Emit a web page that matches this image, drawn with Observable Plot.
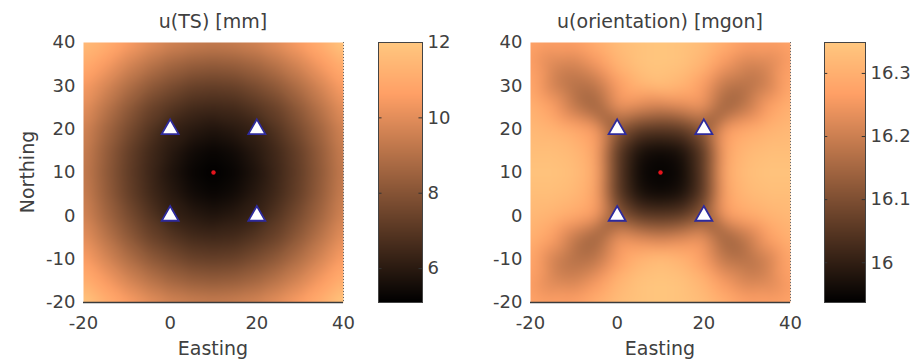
<!DOCTYPE html>
<html><head><meta charset="utf-8">
<script src="https://cdn.jsdelivr.net/npm/d3@7"></script>
<script src="https://cdn.jsdelivr.net/npm/@observablehq/plot@0.6"></script>
<style>
body{margin:0;background:#fff;}
#chart{position:relative;width:923px;height:360px;font-family:"DejaVu Sans",sans-serif;color:#404040;overflow:hidden;}
.svgbox{position:absolute;top:0;}
.lbl{position:absolute;font-size:19px;color:#404040;white-space:nowrap;transform:translate(-50%,-50%);line-height:1;}
</style></head><body><div id="chart"></div>
<script>
// grid coordinates (columns = Easting, rows = Northing, top row first)
const easting  = [-20,-15,-10,-5,0,5,10,15,20,25,30,35,40];
const northing = [40,35,30,25,20,15,10,5,0,-5,-10,-15,-20];

// u(TS) [mm]
const uTS = [
  [11.6,11.2,10.6,10.1, 9.7, 9.5, 9.4, 9.5, 9.7,10.1,10.6,11.2,12.0],
  [11.1,10.5, 9.8, 9.2, 8.7, 8.4, 8.3, 8.4, 8.7, 9.2, 9.8,10.5,11.2],
  [10.5, 9.8, 9.0, 8.3, 7.8, 7.4, 7.3, 7.4, 7.8, 8.3, 9.0, 9.8,10.6],
  [10.1, 9.2, 8.3, 7.5, 7.0, 6.6, 6.5, 6.6, 7.0, 7.5, 8.3, 9.2,10.1],
  [ 9.7, 8.7, 7.8, 7.0, 6.3, 6.0, 5.8, 6.0, 6.3, 7.0, 7.8, 8.7, 9.7],
  [ 9.5, 8.4, 7.4, 6.6, 6.0, 5.5, 5.3, 5.5, 6.0, 6.6, 7.4, 8.4, 9.5],
  [ 9.4, 8.3, 7.3, 6.5, 5.8, 5.3, 5.1, 5.3, 5.8, 6.5, 7.3, 8.3, 9.4],
  [ 9.5, 8.4, 7.4, 6.6, 6.0, 5.5, 5.3, 5.5, 6.0, 6.6, 7.4, 8.4, 9.5],
  [ 9.7, 8.7, 7.8, 7.0, 6.3, 6.0, 5.8, 6.0, 6.3, 7.0, 7.8, 8.7, 9.7],
  [10.1, 9.2, 8.3, 7.5, 7.0, 6.6, 6.5, 6.6, 7.0, 7.5, 8.3, 9.2,10.1],
  [10.6, 9.8, 9.0, 8.3, 7.8, 7.4, 7.3, 7.4, 7.8, 8.3, 9.0, 9.8,10.6],
  [11.2,10.5, 9.8, 9.2, 8.7, 8.4, 8.3, 8.4, 8.7, 9.2, 9.8,10.5,11.2],
  [12.0,11.2,10.6,10.1, 9.7, 9.5, 9.4, 9.5, 9.7,10.1,10.6,11.2,12.0]
];

// u(orientation) [mgon]
const uOrientation = [
  [16.28,16.27,16.27,16.30,16.33,16.34,16.345,16.34,16.33,16.30,16.27,16.27,16.28],
  [16.27,16.22,16.21,16.25,16.31,16.34,16.345,16.34,16.31,16.25,16.21,16.22,16.27],
  [16.29,16.21,16.17,16.18,16.26,16.31,16.33,16.31,16.26,16.18,16.17,16.21,16.29],
  [16.31,16.27,16.19,16.14,16.24,16.22,16.20,16.22,16.24,16.14,16.19,16.27,16.31],
  [16.32,16.31,16.29,16.26,16.12,16.06,16.05,16.06,16.12,16.26,16.29,16.31,16.32],
  [16.33,16.33,16.32,16.28,16.06,15.97,15.955,15.97,16.06,16.28,16.32,16.33,16.33],
  [16.34,16.34,16.33,16.29,16.06,15.955,15.94,15.955,16.06,16.29,16.33,16.34,16.34],
  [16.33,16.33,16.32,16.28,16.06,15.97,15.955,15.97,16.06,16.28,16.32,16.33,16.33],
  [16.32,16.31,16.29,16.26,16.12,16.06,16.05,16.06,16.12,16.26,16.29,16.31,16.32],
  [16.31,16.27,16.19,16.14,16.24,16.22,16.20,16.22,16.24,16.14,16.19,16.27,16.31],
  [16.29,16.21,16.17,16.18,16.26,16.31,16.33,16.31,16.26,16.18,16.17,16.21,16.29],
  [16.27,16.22,16.21,16.25,16.31,16.34,16.345,16.34,16.31,16.25,16.21,16.22,16.27],
  [16.28,16.27,16.27,16.30,16.33,16.34,16.345,16.34,16.33,16.30,16.27,16.27,16.28]
];

// extra samples of u(orientation) along the dark lobes running out from each control point
const lobeE = [-2.5,-7.5,-12.5,-17.5, 22.5,27.5,32.5,37.5, -2.5,-7.5,-12.5,-17.5, 22.5,27.5,32.5,37.5];
const lobeN = [22.5,27.5,32.5,37.5, 22.5,27.5,32.5,37.5, -2.5,-7.5,-12.5,-17.5, -2.5,-7.5,-12.5,-17.5];
const lobeV = [16.12,16.15,16.19,16.24, 16.12,16.15,16.19,16.24, 16.12,16.15,16.19,16.24, 16.12,16.15,16.19,16.24];

// control points (triangles) and target point
const stationE = [0, 20, 0, 20];
const stationN = [0, 0, 20, 20];
const targetE = [10];
const targetN = [10];

// ticks
const xTicks = [-20, 0, 20, 40];
const yTicks = [-20, -10, 0, 10, 20, 30, 40];
const tsTicks = [6, 8, 10, 12];
const oriTicks = [16, 16.1, 16.2, 16.3];
const tsDomain = [5.1, 12.0];
const oriDomain = [15.937, 16.349];

const titles = ["u(TS) [mm]", "u(orientation) [mgon]"];
const xLabel = "Easting";
const yLabel = "Northing";

// MATLAB "copper" colormap
const copper = t => `rgb(${Math.round(255*Math.min(1,1.25*t))},${Math.round(255*0.7812*t)},${Math.round(255*0.4975*t)})`;

const baseStyle = {fontFamily: "DejaVu Sans, sans-serif", fontSize: "18px", color: "#404040", background: "transparent", overflow: "visible"};

function heatmap(values, extra, domain, marginLeft, blur) {
  const cells = [];
  northing.forEach((n, i) => easting.forEach((e, j) => cells.push({e, n, v: values[i][j]})));
  if (extra) extra.e.forEach((e, i) => cells.push({e, n: extra.n[i], v: extra.v[i]}));
  const stations = stationE.map((e, i) => ({e, n: stationN[i]}));
  const target = targetE.map((e, i) => ({e, n: targetN[i]}));
  return Plot.plot({
    width: marginLeft + 260 + 20, height: 360,
    marginLeft, marginRight: 20, marginTop: 42, marginBottom: 58,
    x: {domain: [-20, 40]}, y: {domain: [-20, 40]},
    color: {type: "linear", domain, interpolate: copper, clamp: true},
    style: baseStyle,
    marks: [
      Plot.raster(cells, {x: "e", y: "n", fill: "v", x1: -20, x2: 40, y1: -20, y2: 40,
        interpolate: "barycentric", blur, pixelSize: 1}),
      Plot.ruleX([40], {stroke: "#666", strokeDasharray: "1,2"}),
      Plot.ruleY([-20], {stroke: "#3a3a3a", strokeWidth: 1.5}),
      Plot.axisX(xTicks, {tickSize: 0, tickPadding: 14, label: null, tickFormat: d => String(d)}),
      Plot.axisY(yTicks, {tickSize: 0, tickPadding: 8, label: null, tickFormat: d => String(d)}),
      Plot.dot(stations, {x: "e", y: "n", symbol: "triangle", r: 6.3, fill: "white", stroke: "#2e2a9c", strokeWidth: 1.8}),
      Plot.dot(target, {x: "e", y: "n", r: 2.2, fill: "#e5141c"})
    ]
  });
}

function colorbar(domain, ticks, barWidth, marginRight) {
  return Plot.plot({
    width: barWidth + marginRight, height: 360,
    marginLeft: 0, marginRight, marginTop: 42, marginBottom: 58,
    x: {domain: [0, 1], axis: null}, y: {domain, axis: null},
    color: {type: "linear", domain, interpolate: copper, clamp: true},
    style: baseStyle,
    marks: [
      Plot.raster({fill: (x, y) => y, x1: 0, x2: 1, y1: domain[0], y2: domain[1], pixelSize: 1}),
      Plot.ruleY(ticks, {x1: 0, x2: 0.08, stroke: "#333"}),
      Plot.ruleY(ticks, {x1: 0.92, x2: 1, stroke: "#333"}),
      Plot.frame({stroke: "#444"}),
      Plot.axisY(ticks, {anchor: "right", tickSize: 0, tickPadding: 5, label: null, tickFormat: d => String(d)})
    ]
  });
}

const chart = document.getElementById("chart");
function place(node, left) {
  const box = document.createElement("div");
  box.className = "svgbox";
  box.style.left = left + "px";
  box.appendChild(node);
  chart.appendChild(box);
}
function label(text, x, y, rotate) {
  const d = document.createElement("div");
  d.className = "lbl";
  d.textContent = text;
  d.style.left = x + "px";
  d.style.top = y + "px";
  if (rotate) d.style.transform = "translate(-50%,-50%) rotate(-90deg)";
  chart.appendChild(d);
}

place(heatmap(uTS, null, tsDomain, 83, 4), 0);
place(colorbar(tsDomain, tsTicks, 44, 31), 378);
place(heatmap(uOrientation, {e: lobeE, n: lobeN, v: lobeV}, oriDomain, 75, 6), 455);
place(colorbar(oriDomain, oriTicks, 41, 58), 824);

label(titles[0], 213, 21);
label(titles[1], 660, 21);
label(xLabel, 213, 348);
label(xLabel, 660, 348);
label(yLabel, 27, 172, true);
</script></body></html>
